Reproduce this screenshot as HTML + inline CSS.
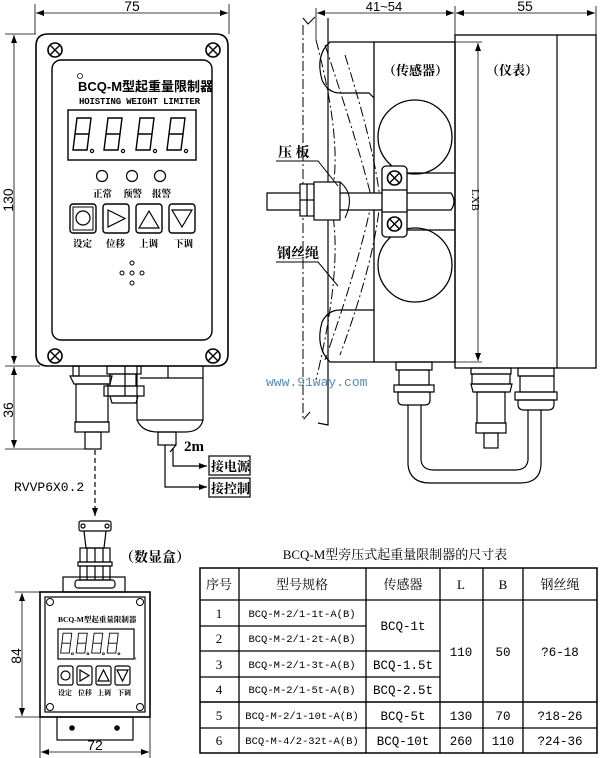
<!DOCTYPE html>
<html><head><meta charset="utf-8"><style>
html,body{margin:0;padding:0;background:#fff;}
svg{display:block;}
text{font-family:"Liberation Serif","Noto Serif CJK SC","Noto Sans CJK SC",serif;fill:#000;}
text.s{font-family:"Liberation Sans","Noto Sans CJK SC",sans-serif;}
text.m{font-family:"Liberation Mono","Noto Sans CJK SC",monospace;}
text.w{font-family:"Liberation Mono",monospace;fill:#5a8ab5;}
</style></head><body>
<svg width="600" height="758" viewBox="0 0 600 758" xmlns="http://www.w3.org/2000/svg" fill="none" stroke="#000" stroke-width="1.2">
<defs>
<marker id="a" markerWidth="8" markerHeight="6" refX="8" refY="3" orient="auto" markerUnits="userSpaceOnUse"><path d="M0,0 L8,3 L0,6" fill="#000" stroke="none"/></marker>
<marker id="b" markerWidth="8" markerHeight="6" refX="0" refY="3" orient="auto" markerUnits="userSpaceOnUse"><path d="M8,0 L0,3 L8,6" fill="#000" stroke="none"/></marker>
<g id="scr"><circle r="7" stroke-width="1.6"/><path d="M-4.5,-4.5 L4.5,4.5 M-4.5,4.5 L4.5,-4.5" stroke-width="1.4"/></g>
<g id="dg"><path d="M3,2 H17 L15,18 H1 Z M1,18 L-1,34 H13 L15,18" stroke-width="1.4"/><circle cx="18" cy="35" r="1.6"/></g>
</defs>

<!-- ===== Top-left meter ===== -->
<line x1="35" y1="4" x2="35" y2="34" stroke-width="0.8"/>
<line x1="229" y1="4" x2="229" y2="34" stroke-width="0.8"/>
<line x1="36" y1="13" x2="228" y2="13" stroke-width="0.8" marker-start="url(#b)" marker-end="url(#a)"/>
<text x="132" y="11" font-size="14" text-anchor="middle" class="s" stroke="none">75</text>
<line x1="5" y1="34" x2="36" y2="34" stroke-width="0.8"/>
<line x1="14" y1="35" x2="14" y2="364" stroke-width="0.8" marker-start="url(#b)" marker-end="url(#a)"/>
<text x="13" y="200" font-size="14" class="s" stroke="none" text-anchor="middle" transform="rotate(-90 13 200)">130</text>
<line x1="5" y1="366" x2="40" y2="366" stroke-width="0.8"/>
<line x1="14" y1="367" x2="14" y2="448" stroke-width="0.8" marker-start="url(#b)" marker-end="url(#a)"/>
<text x="13" y="410" font-size="14" class="s" stroke="none" text-anchor="middle" transform="rotate(-90 13 410)">36</text>
<line x1="5" y1="449" x2="95" y2="449" stroke-width="0.8"/>

<path d="M48,34 H216 Q228,34 228,46 V354 Q228,366 216,366 H48 Q36,366 36,354 V46 Q36,34 48,34 Z" stroke-width="1.6"/>
<rect x="52" y="60" width="160" height="280" rx="9" stroke-width="1.4"/>
<use href="#scr" x="55" y="50"/><use href="#scr" x="213" y="50"/>
<use href="#scr" x="55" y="356"/><use href="#scr" x="213" y="356"/>
<circle cx="80" cy="76" r="2.5" stroke-width="0.8"/>
<text x="78" y="91" font-size="13" font-weight="bold" stroke="none" class="s">BCQ-M型起重量限制器</text>
<text x="79" y="104" font-size="9" font-weight="bold" stroke="none" textLength="121" class="m">HOISTING WEIGHT LIMITER</text>
<rect x="68" y="110" width="128" height="50" stroke-width="1.4"/>
<use href="#dg" x="74" y="116"/><use href="#dg" x="105" y="116"/><use href="#dg" x="137" y="116"/><use href="#dg" x="168" y="116"/>
<circle cx="102" cy="176" r="5.5"/><circle cx="132" cy="176" r="5.5"/><circle cx="160" cy="176" r="5.5"/>
<text x="93" y="197" font-size="9.5" font-weight="bold" stroke="none">正常</text>
<text x="123" y="197" font-size="9.5" font-weight="bold" stroke="none">预警</text>
<text x="152" y="197" font-size="9.5" font-weight="bold" stroke="none">报警</text>
<rect x="70" y="204" width="26" height="29" rx="3" stroke-width="1.4"/><rect x="73" y="207" width="20" height="23" stroke-width="1"/><circle cx="83" cy="218" r="7"/>
<rect x="103" y="204" width="26" height="29" rx="3" stroke-width="1.4"/><path d="M108,210 L125,218.5 L108,227 Z"/>
<rect x="136" y="204" width="26" height="29" rx="3" stroke-width="1.4"/><path d="M139,228 L149,211 L159,228 Z"/>
<rect x="169" y="204" width="26" height="29" rx="3" stroke-width="1.4"/><path d="M172,210 L192,210 L182,227 Z"/>
<text x="73" y="247" font-size="9.5" font-weight="bold" stroke="none">设定</text>
<text x="106" y="247" font-size="9.5" font-weight="bold" stroke="none">位移</text>
<text x="139" y="247" font-size="9.5" font-weight="bold" stroke="none">上调</text>
<text x="174" y="247" font-size="9.5" font-weight="bold" stroke="none">下调</text>
<g stroke-width="1"><circle cx="132" cy="263" r="2"/><circle cx="122" cy="273" r="2"/><circle cx="132" cy="273" r="2"/><circle cx="142" cy="273" r="2"/><circle cx="132" cy="283" r="2"/></g>

<!-- bottom connectors of meter -->
<rect x="73" y="366" width="6" height="10"/>
<path d="M70,376 H112 L110,384 H74 Z"/>
<rect x="76" y="384" width="32" height="38"/>
<rect x="75" y="422" width="34" height="10"/>
<rect x="85" y="432" width="16" height="17"/>
<rect x="107" y="366" width="34" height="8"/>
<rect x="110" y="374" width="26" height="12"/>
<rect x="104" y="386" width="40" height="10"/>
<path d="M110,396 H138 L136,403 H112 Z"/>
<line x1="125" y1="366" x2="125" y2="396"/>
<rect x="137" y="366" width="66" height="54"/>
<line x1="168" y1="366" x2="168" y2="378"/><line x1="140" y1="378" x2="203" y2="378"/>
<path d="M137,420 Q142,432 158,432 H185 Q200,432 203,420"/>
<rect x="158" y="432" width="18" height="13"/>
<path d="M176,445 L170,452"/>
<text x="184" y="451" font-size="15" font-weight="bold" stroke="none">2m</text>
<path d="M165,445 V487 H207" marker-end="url(#a)"/>
<path d="M173,448 V466 H207" marker-end="url(#a)"/>
<rect x="209" y="456" width="41" height="19" stroke-width="1.2"/>
<text x="211" y="471" font-size="13" font-weight="bold" stroke="none">接电源</text>
<rect x="209" y="478" width="41" height="19" stroke-width="1.2"/>
<text x="211" y="493" font-size="13" font-weight="bold" stroke="none">接控制</text>
<line x1="95" y1="450" x2="95" y2="516" stroke-dasharray="5,3" marker-end="url(#a)"/>
<text x="14" y="491" font-size="13" class="m" stroke="none">RVVP6X0.2</text>

<!-- ===== small display box ===== -->
<rect x="79" y="521" width="32" height="10" rx="2"/>
<circle cx="83" cy="526" r="2"/><circle cx="107" cy="526" r="2"/>
<path d="M84,531 L86,548 H104 L106,531"/>
<rect x="80" y="548" width="30" height="14"/><rect x="78" y="562" width="34" height="4"/>
<rect x="80" y="566" width="30" height="14"/>
<path d="M87,548 V562 M95,548 V562 M103,548 V562 M87,566 V580 M95,566 V580 M103,566 V580"/>
<rect x="63" y="577" width="62" height="15"/>
<rect x="75" y="580" width="40" height="8" rx="3"/>
<text x="120" y="562" font-size="14" font-weight="bold" stroke="none">（数显盒）</text>
<rect x="40" y="592" width="110" height="125" stroke-width="1.6"/>
<rect x="45" y="597" width="100" height="115" stroke-width="1.2"/>
<g stroke-width="1"><circle cx="50" cy="602" r="3.5"/><circle cx="140" cy="602" r="3.5"/><circle cx="50" cy="707" r="3.5"/><circle cx="140" cy="707" r="3.5"/></g>
<text x="58" y="622" font-size="7.5" font-weight="bold" stroke="none">BCQ-M型起重量限制器</text>
<rect x="58" y="629" width="76" height="30" stroke-width="1.2"/>
<g transform="translate(60,632) scale(0.62)"><use href="#dg" x="2" y="0"/><use href="#dg" x="27" y="0"/><use href="#dg" x="52" y="0"/><use href="#dg" x="77" y="0"/></g>
<text x="135" y="660" font-size="5" stroke="none">t</text>
<rect x="58" y="666" width="15" height="19" rx="2"/><circle cx="65.5" cy="675.5" r="4.5"/>
<rect x="77" y="666" width="15" height="19" rx="2"/><path d="M80,670 L89,675.5 L80,681 Z"/>
<rect x="96" y="666" width="15" height="19" rx="2"/><path d="M98,681 L103.5,670 L109,681 Z"/>
<rect x="115" y="666" width="15" height="19" rx="2"/><path d="M117,670 H128 L122.5,681 Z"/>
<text x="58" y="695" font-size="7" font-weight="bold" stroke="none">设定</text>
<text x="78" y="695" font-size="7" font-weight="bold" stroke="none">位移</text>
<text x="97" y="695" font-size="7" font-weight="bold" stroke="none">上调</text>
<text x="117" y="695" font-size="7" font-weight="bold" stroke="none">下调</text>
<rect x="57" y="717" width="76" height="23"/>
<circle cx="72" cy="728" r="2.2" fill="#000"/><circle cx="117" cy="728" r="2.2" fill="#000"/>
<line x1="15" y1="592" x2="40" y2="592" stroke-width="0.8"/>
<line x1="15" y1="717" x2="40" y2="717" stroke-width="0.8"/>
<line x1="22" y1="593" x2="22" y2="716" stroke-width="0.8" marker-start="url(#b)" marker-end="url(#a)"/>
<text x="21" y="656" font-size="14" class="s" stroke="none" text-anchor="middle" transform="rotate(-90 21 656)">84</text>
<line x1="40" y1="717" x2="40" y2="758" stroke-width="0.8"/>
<line x1="150" y1="717" x2="150" y2="758" stroke-width="0.8"/>
<line x1="41" y1="752" x2="149" y2="752" stroke-width="0.8" marker-start="url(#b)" marker-end="url(#a)"/>
<text x="95" y="750" font-size="14" text-anchor="middle" class="s" stroke="none">72</text>

<!-- ===== Right side view ===== -->
<line x1="316" y1="8" x2="316" y2="40" stroke-width="0.8"/>
<line x1="455" y1="6" x2="455" y2="40" stroke-width="0.8"/>
<line x1="596" y1="6" x2="596" y2="35" stroke-width="0.8"/>
<line x1="317" y1="13" x2="454" y2="13" stroke-width="0.8" marker-start="url(#b)" marker-end="url(#a)"/>
<line x1="456" y1="13" x2="595" y2="13" stroke-width="0.8" marker-start="url(#b)" marker-end="url(#a)"/>
<text x="384" y="11" font-size="13" text-anchor="middle" class="s" stroke="none">41~54</text>
<text x="525" y="11" font-size="14" text-anchor="middle" class="s" stroke="none">55</text>

<!-- rope/beam lines -->
<path d="M303,18 L308,24 L315,17" stroke-width="1"/>
<path d="M328,18 V425 L318,423" stroke-width="1.2"/>
<path d="M303,25 V420 L310,412" stroke-width="1" stroke-dasharray="10,3,2,3"/>
<path d="M325,45 Q360,150 372,200 Q360,260 325,360" stroke-width="1" stroke-dasharray="10,3,2,3"/>
<path d="M345,55 Q375,150 380,200 Q375,260 340,355" stroke-width="1" stroke-dasharray="10,3,2,3"/>
<path d="M316,40 Q345,150 330,200 Q345,260 316,380" stroke-width="1" stroke-dasharray="10,3,2,3"/>

<!-- sensor body -->
<rect x="374" y="42" width="81" height="320" stroke-width="1.3"/>
<path d="M374,42 H330 Q315,55 322,80 Q328,93 340,93 H369 L374,98"/>
<path d="M374,310 H340 Q328,310 322,322 Q315,347 330,362 H374"/>
<text x="383" y="75" font-size="13" font-weight="bold" stroke="none">（传感器）</text>
<circle cx="415" cy="137" r="37" stroke-width="1.3"/>
<circle cx="415" cy="265" r="37" stroke-width="1.3"/>
<!-- rod -->
<path d="M267,193 H451 Q457,201.5 451,210 H267 Z" fill="#fff"/>
<rect x="300" y="184" width="14" height="32" fill="#fff"/><line x1="300" y1="200" x2="314" y2="200"/>
<line x1="307" y1="184" x2="307" y2="216"/>
<rect x="314" y="182" width="26" height="38" fill="#fff"/>
<path d="M340,182 Q356,195 345,218" stroke-width="1"/>
<!-- clamp -->
<rect x="382" y="166" width="25" height="71" rx="4" fill="#fff" stroke-width="1.3"/>
<line x1="382" y1="190" x2="407" y2="190"/><line x1="382" y1="212" x2="407" y2="212"/>
<use href="#scr" x="394.5" y="178"/><use href="#scr" x="394.5" y="224"/>
<line x1="407" y1="173" x2="455" y2="173"/><line x1="407" y1="230" x2="455" y2="230"/>
<text x="278" y="157" font-size="14" font-weight="bold" stroke="none">压 板</text>
<path d="M276,161 H318 L338,186" stroke-width="1"/>
<text x="277" y="258" font-size="14" font-weight="bold" stroke="none">钢丝绳</text>
<path d="M276,262 H318 L338,286" stroke-width="1"/>

<!-- instrument -->
<rect x="455" y="35" width="141" height="333" stroke-width="1.3"/>
<line x1="557" y1="35" x2="557" y2="368"/>
<line x1="455" y1="42" x2="482" y2="42" stroke-width="0.8"/>
<line x1="455" y1="362" x2="482" y2="362" stroke-width="0.8"/>
<line x1="478" y1="43" x2="478" y2="361" stroke-width="0.8" marker-start="url(#b)" marker-end="url(#a)"/>
<text x="472" y="200" font-size="11" stroke="none" text-anchor="middle" transform="rotate(90 472 200)">LXB</text>
<text x="486" y="75" font-size="13" font-weight="bold" stroke="none">（仪表）</text>
<text x="266" y="386" font-size="13" class="w" stroke="none">www.91way.com</text>

<!-- bottom right connectors -->
<rect x="396" y="362" width="36" height="8"/>
<rect x="399" y="370" width="30" height="15"/>
<rect x="394" y="385" width="40" height="7"/>
<path d="M398,392 H430 V400 Q430,405 425,405 H403 Q398,405 398,400 Z"/>
<rect x="471" y="368" width="40" height="6"/>
<rect x="472" y="374" width="38" height="10"/>
<path d="M471,384 H512 L510,392 H473 Z"/>
<rect x="477" y="392" width="28" height="31"/>
<rect x="476" y="423" width="30" height="10"/>
<rect x="484" y="433" width="14" height="15"/>
<rect x="518" y="368" width="36" height="8"/>
<rect x="520" y="376" width="34" height="16"/>
<rect x="515" y="392" width="42" height="8"/>
<path d="M518,400 H554 V404 Q554,410 548,410 H524 Q518,410 518,404 Z"/>
<path d="M408,405 V465 Q410,483 430,483 H520 Q540,483 541,465 V410"/>
<path d="M421,405 V460 Q422,470 434,470 H515 Q527,470 528,460 V410"/>

<!-- ===== Table ===== -->
<text x="395" y="559" font-size="13" text-anchor="middle" stroke="none">BCQ-M型旁压式起重量限制器的尺寸表</text>
<g stroke-width="1.3">
<rect x="200" y="568" width="397" height="185" stroke-width="1.5"/>
<line x1="200" y1="600" x2="597" y2="600"/>
<line x1="200" y1="626" x2="366" y2="626"/>
<line x1="200" y1="651" x2="440" y2="651"/>
<line x1="200" y1="677" x2="440" y2="677"/>
<line x1="200" y1="702" x2="597" y2="702" stroke-width="1.6"/>
<line x1="200" y1="728" x2="597" y2="728"/>
<line x1="239" y1="568" x2="239" y2="753"/>
<line x1="366" y1="568" x2="366" y2="753"/>
<line x1="440" y1="568" x2="440" y2="753"/>
<line x1="483" y1="568" x2="483" y2="753"/>
<line x1="523" y1="568" x2="523" y2="753"/>
</g>
<g font-size="13" stroke="none" text-anchor="middle">
<text x="219" y="589">序号</text><text x="302" y="589">型号规格</text><text x="403" y="589">传感器</text>
<text x="461" y="589">L</text><text x="503" y="589">B</text><text x="560" y="589">钢丝绳</text>
<text x="219" y="618">1</text><text x="219" y="643">2</text><text x="219" y="669">3</text>
<text x="219" y="694">4</text><text x="219" y="720">5</text><text x="219" y="745">6</text>
</g>
<g font-size="10.5" stroke="none" text-anchor="middle">
<text class="m" x="302" y="617">BCQ-M-2/1-1t-A(B)</text>
<text class="m" x="302" y="642">BCQ-M-2/1-2t-A(B)</text>
<text class="m" x="302" y="668">BCQ-M-2/1-3t-A(B)</text>
<text class="m" x="302" y="693">BCQ-M-2/1-5t-A(B)</text>
<text class="m" x="302" y="719">BCQ-M-2/1-10t-A(B)</text>
<text class="m" x="302" y="744">BCQ-M-4/2-32t-A(B)</text>
</g>
<g font-size="12.5" stroke="none" text-anchor="middle">
<text class="m" x="403" y="630">BCQ-1t</text>
<text class="m" x="403" y="669">BCQ-1.5t</text>
<text class="m" x="403" y="694">BCQ-2.5t</text>
<text class="m" x="403" y="720">BCQ-5t</text>
<text class="m" x="403" y="745">BCQ-10t</text>
<text class="m" x="461" y="656">110</text><text class="m" x="503" y="656">50</text><text class="m" x="560" y="656">?6-18</text>
<text class="m" x="461" y="720">130</text><text class="m" x="503" y="720">70</text><text class="m" x="560" y="720">?18-26</text>
<text class="m" x="461" y="745">260</text><text class="m" x="503" y="745">110</text><text class="m" x="560" y="745">?24-36</text>
</g>
</svg>
</body></html>
